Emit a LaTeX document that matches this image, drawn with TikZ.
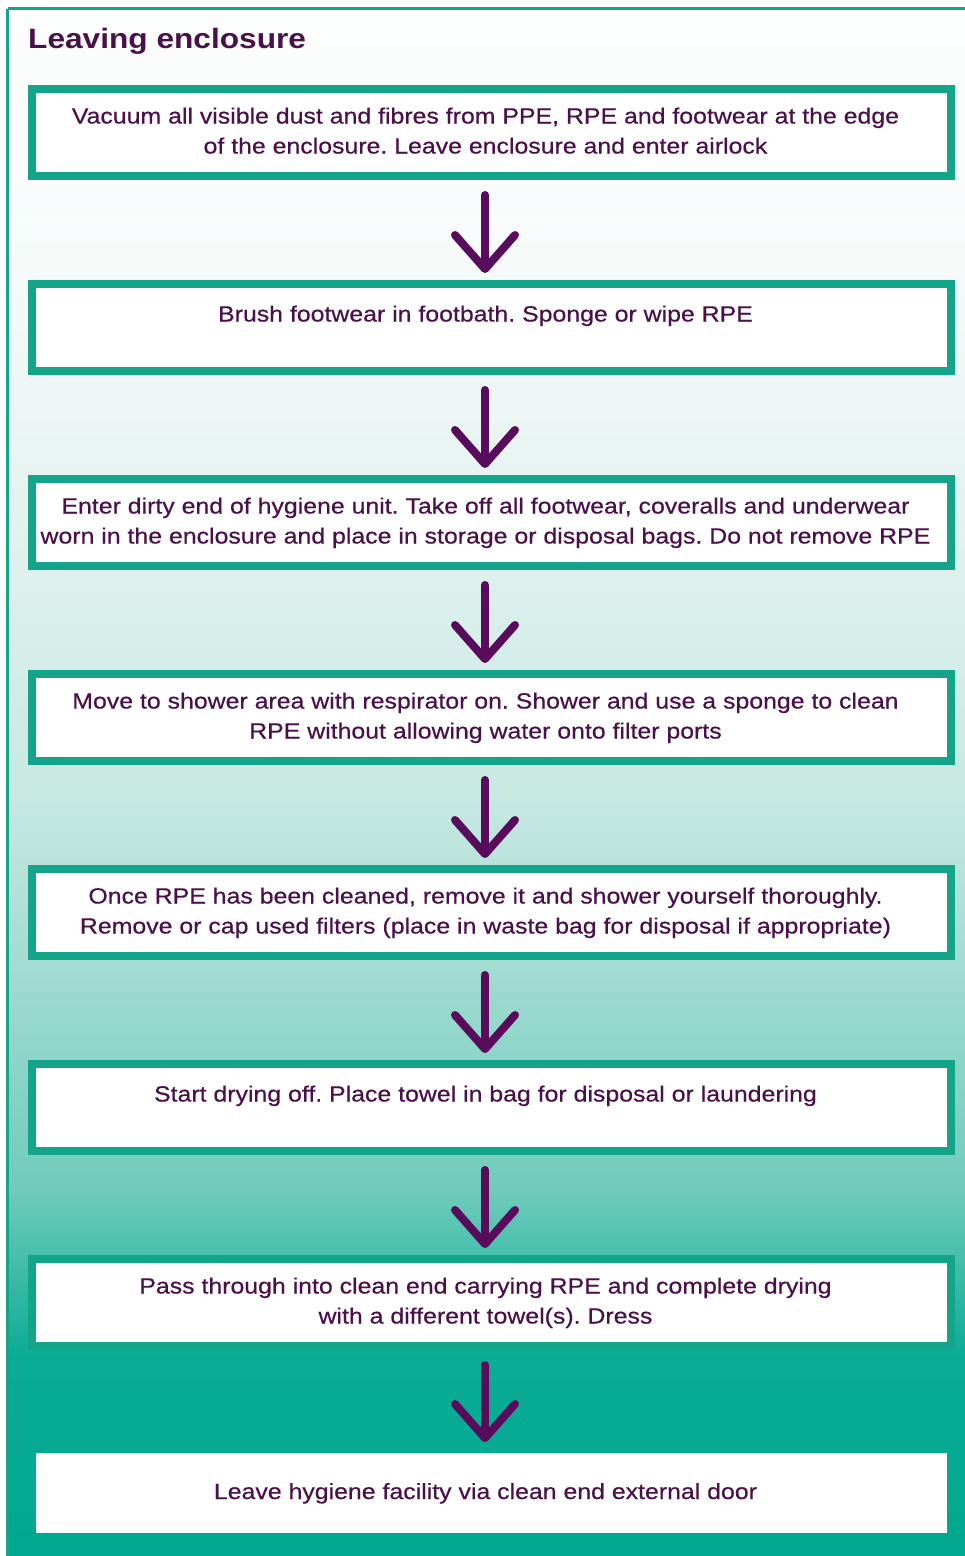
\documentclass[tikz,border=0pt]{standalone}
\usepackage{fontspec}
\setmainfont{Liberation Sans}
\newfontfamily\boxface[FakeStretch=1.13,FakeBold=0.5]{Liberation Sans}
\newfontfamily\titleface[FakeStretch=1.13]{Liberation Sans}
\usepackage{tikz}
\usetikzlibrary{arrows.meta,positioning,calc}

\definecolor{boxteal}{HTML}{14A48A}
\definecolor{txtpurple}{HTML}{4A1049}
\definecolor{arrowpurple}{HTML}{5A0C5C}
\definecolor{fadeA}{HTML}{00A88F}
\definecolor{fadeB}{HTML}{0BAC95}
\definecolor{fadeC}{HTML}{6FCBBB}
\definecolor{fadeD}{HTML}{C8E8E2}
\definecolor{fadeE}{HTML}{EEF7F5}
\definecolor{fadeF}{HTML}{FBFDFD}

\pgfdeclareverticalshading{bgfade}{100bp}{color(0bp)=(fadeA); color(25bp)=(fadeA);
  color(31.5bp)=(fadeB); color(36.8bp)=(fadeC); color(49.5bp)=(fadeD);
  color(62.5bp)=(fadeE); color(70bp)=(fadeF); color(100bp)=(white)}

\newcommand{\boxfont}{\boxface\fontsize{22}{30}\selectfont\frenchspacing}
% text block sits a little left of the box centre
\newcommand{\steptext}[1]{\hspace*{-12pt}\begin{tabular}{@{}c@{}}#1\end{tabular}}

\begin{document}
\begin{tikzpicture}[x=1pt,y=-1pt,
  stepbox/.style={draw=boxteal,line width=8pt,fill=white,minimum width=919pt,
    minimum height=87pt,inner sep=0pt,outer sep=0pt,
    font=\boxfont,text=txtpurple},
  lastbox/.style={stepbox,draw=none,minimum width=911pt,minimum height=80pt},
  flow/.style={draw=arrowpurple,line width=8pt,line cap=round,
    -{Straight Barb[length=34pt,width=60pt,line join=round,line cap=round]},
    shorten <=19pt,shorten >=11pt},
  node distance=108pt]

\useasboundingbox (0,0) rectangle (965,1556);

% Background panel
\shade[shading=bgfade] (6,7) rectangle (965,1556);
\draw[boxteal,line width=3pt] (7.5,8.5) -- (7.5,1560);
\draw[boxteal,line width=3pt] (7.5,8.5) -- (970,8.5);

% Title
\node[anchor=base west,font=\titleface\fontsize{28}{32}\selectfont\bfseries,text=txtpurple,inner sep=0pt]
  (title) at (28,48) {Leaving enclosure};

% Steps
\node[stepbox] (b1) at (491.5,132.5) {\steptext{Vacuum all visible dust and fibres from PPE, RPE and footwear at the edge\\of the enclosure. Leave enclosure and enter airlock}};
\node[stepbox,below=of b1] (b2) {\steptext{Brush footwear in footbath. Sponge or wipe RPE\\[-6pt]\strut}};
\node[stepbox,below=of b2] (b3) {\steptext{Enter dirty end of hygiene unit. Take off all footwear, coveralls and underwear\\worn in the enclosure and place in storage or disposal bags. Do not remove RPE}};
\node[stepbox,below=of b3] (b4) {\steptext{Move to shower area with respirator on. Shower and use a sponge to clean\\RPE without allowing water onto filter ports}};
\node[stepbox,below=of b4] (b5) {\steptext{Once RPE has been cleaned, remove it and shower yourself thoroughly.\\Remove or cap used filters (place in waste bag for disposal if appropriate)}};
\node[stepbox,below=of b5] (b6) {\steptext{Start drying off. Place towel in bag for disposal or laundering\\[-6pt]\strut}};
\node[stepbox,below=of b6] (b7) {\steptext{Pass through into clean end carrying RPE and complete drying\\with a different towel(s). Dress}};
\node[lastbox,below=107pt of b7] (b8) {\steptext{Leave hygiene facility via clean end external door}};

% Arrows
\foreach \a/\b in {b1/b2,b2/b3,b3/b4,b4/b5,b5/b6,b6/b7,b7/b8}
{
\draw[flow] ([xshift=-6.5pt]\a.south) -- ([xshift=-6.5pt]\b.north);
}

\end{tikzpicture}
\end{document}
